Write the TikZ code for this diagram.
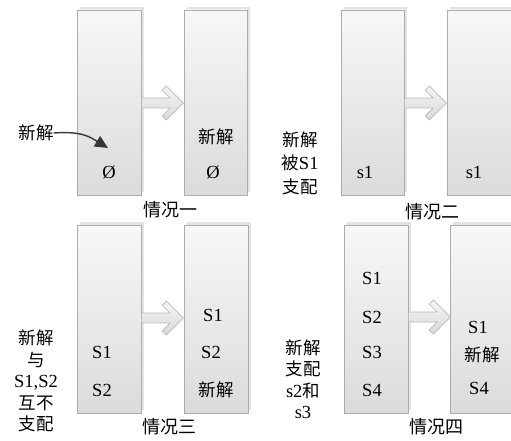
\documentclass[tikz,border=0pt]{standalone}
\usepackage{fontspec}
\setmainfont{Liberation Serif}
\newfontfamily\cjk{Noto Sans CJK SC}
\newcommand\zh[1]{{\fontsize{17.5}{21.5}\selectfont\cjk #1}}
\usetikzlibrary{arrows.meta,shadows}
\begin{document}
\begin{tikzpicture}[x=1pt,y=-1pt,
  box/.style={draw=gray!65, line width=0.8pt, top color=white!97!black, bottom color=white!86!black,
    drop shadow={shadow xshift=2.5pt, shadow yshift=3pt, fill=gray!22, opacity=1},
    minimum width=64pt, inner sep=0pt},
  txt/.style={font=\fontsize{18.5}{21.5}\selectfont, inner sep=0pt, align=center},
  lbl/.style={font=\fontsize{18}{21}\selectfont\cjk, inner sep=0pt},
  blk/.style={draw=gray!55, line width=0.7pt, top color=gray!8, bottom color=gray!30},
  curv/.style={draw=black!78, line width=1.4pt, -{Triangle[length=13pt,width=12pt]}}
]
\useasboundingbox (0,0) rectangle (511,441);

% boxes
\node[box, minimum height=185pt] (b1) at (109,102.5) {};
\node[box, minimum height=185pt, minimum width=63pt] (b2) at (215.5,102.5) {};
\node[box, minimum height=185pt, minimum width=63pt] (b3) at (372.5,102.5) {};
\node[box, minimum height=185pt, minimum width=67pt] (b4) at (480.5,102.5) {};
\node[box, minimum height=188pt] (b5) at (109,319) {};
\node[box, minimum height=188pt] (b6) at (216,319) {};
\node[box, minimum height=188pt] (b7) at (376,319) {};
\node[box, minimum height=188pt] (b8) at (482,319) {};

% block arrows (shaft + chevron head)
\newcommand\blockarrow[1]{%
  \path[blk] (#1) ++(0,-5) -- ++(28.6,0) -- ++(-7.8,-7.8) -- ++(4.2,-4.2)
     -- ++(17,17) -- ++(-17,17) -- ++(-4.2,-4.2) -- ++(7.8,-7.8) -- ++(-28.6,0) -- cycle;}
\coordinate (a1) at (b1.east |- 0,103);
\coordinate (a2) at (b3.east |- 0,103);
\coordinate (a3) at (b5.east |- 0,318);
\coordinate (a4) at (b7.east |- 0,317);
\blockarrow{a1}
\blockarrow{a2}
\blockarrow{a3}
\blockarrow{a4}

% case 1
\node[txt] (n1) at (36,133) {\zh{新解}};
\coordinate (n1tip) at (108,148);
\draw[curv] (n1.east) .. controls (82,131) and (90,137) .. (n1tip);
\node[txt] (e1) at (109,172) {Ø};
\node[txt] (n2) at (216,137) {\zh{新解}};
\node[txt] (e2) at (213,172) {Ø};
\node[lbl] (c1) at (170,210) {情况一};

% case 2
\node[txt, font=\fontsize{18.5}{23.5}\selectfont] (t2) at (300,163) {\zh{新解}\\\zh{被}S1\\\zh{支配}};
\node[txt] (s31) at (365,172) {s1};
\node[txt] (s41) at (474,172) {s1};
\node[lbl] (c2) at (432,212) {情况二};

% case 3
\node[txt] (t3) at (36,381) {\zh{新解}\\\zh{与}\\S1,S2\\\zh{互不}\\\zh{支配}};
\node[txt] (s51) at (102,352) {S1};
\node[txt] (s52) at (102,390) {S2};
\node[txt] (s61) at (213,315) {S1};
\node[txt] (s62) at (211,352) {S2};
\node[txt] (s63) at (216,390) {\zh{新解}};
\node[lbl] (c3) at (169,427) {情况三};

% case 4
\node[txt] (t4) at (303,379) {\zh{新解}\\\zh{支配}\\s2\zh{和}\\s3};
\node[txt] (s71) at (372,278) {S1};
\node[txt] (s72) at (372,317) {S2};
\node[txt] (s73) at (372,352) {S3};
\node[txt] (s74) at (372,390) {S4};
\node[txt] (s81) at (478,327) {S1};
\node[txt] (s82) at (482,355) {\zh{新解}};
\node[txt] (s84) at (479,388) {S4};
\node[lbl] (c4) at (436,427) {情况四};
\end{tikzpicture}
\end{document}
